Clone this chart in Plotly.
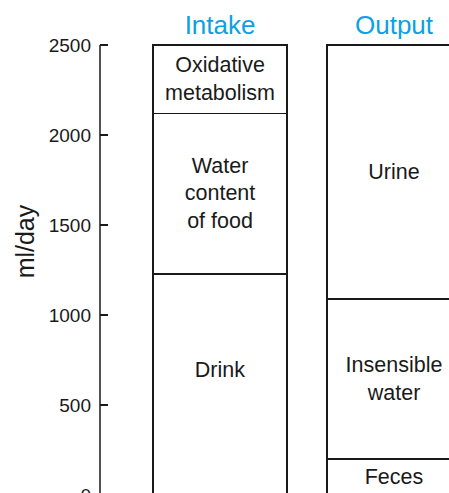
import plotly.graph_objects as go

categories = ["Intake", "Output"]
# stacked segments, bottom to top
level1_values = [1230, 200]
level1_labels = ["Drink<br> ", "Feces"]
level2_values = [890, 890]
level2_labels = ["Water<br>content<br>of food", "Insensible<br>water"]
level3_values = [380, 1410]
level3_labels = ["Oxidative<br>metabolism", "Urine"]
y_ticks = [0, 500, 1000, 1500, 2000, 2500]

FONT = "Liberation Sans, Arial, Helvetica, sans-serif"
INK = "#1a1a1a"
BLUE = "#0aa2e2"

fig = go.Figure()
for vals, labels in [(level1_values, level1_labels),
                     (level2_values, level2_labels),
                     (level3_values, level3_labels)]:
    fig.add_trace(go.Bar(
        x=categories, y=vals, text=labels,
        textposition="inside", insidetextanchor="middle",
        textfont=dict(family=FONT, size=21.5, color=INK),
        marker=dict(color="white", line=dict(color=INK, width=1.8)),
        width=0.77, showlegend=False, hoverinfo="skip",
        constraintext="none",
    ))

# y axis line ending at top tick
fig.add_shape(type="line", xref="paper", yref="y", x0=0, x1=0,
              y0=min(y_ticks), y1=max(y_ticks),
              line=dict(color=INK, width=1.5))

# y axis title
fig.add_annotation(text="ml/day", xref="paper", yref="paper", x=-0.26, y=0.558,
                   textangle=-90, showarrow=False,
                   font=dict(family=FONT, size=25, color=INK))

fig.update_layout(
    width=449, height=520,
    margin=dict(l=100, r=0, t=40, b=25),
    barmode="stack",
    plot_bgcolor="white", paper_bgcolor="white",
    uniformtext=dict(mode=False),
    xaxis=dict(
        side="top", type="category", range=[-0.69, 1.316],
        showline=False, showgrid=False, zeroline=False, ticks="",
        tickfont=dict(family=FONT, size=26, color=BLUE),
    ),
    yaxis=dict(
        range=[0, 2527.8], tickvals=y_ticks,
        showline=False, showgrid=False, zeroline=False,
        ticks="inside", ticklen=8, tickwidth=1.5, tickcolor=INK,
        ticklabelstandoff=8,
        tickfont=dict(family=FONT, size=19, color=INK),
    ),
)

fig.write_html(
    "out.html",
    config={"displayModeBar": False},
    post_script="document.body.style.margin='0';document.body.style.overflow='hidden';document.documentElement.style.overflow='hidden';",
)
